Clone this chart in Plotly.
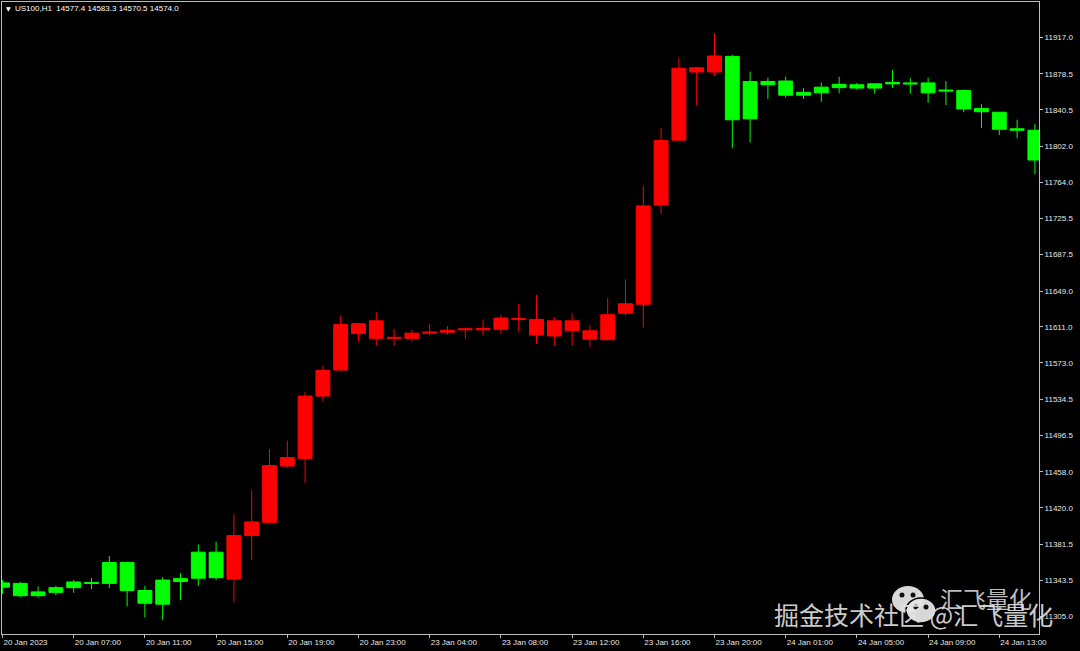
import plotly.graph_objects as go

# ---- data ----
bar_index = list(range(59))
open_ = [11340.5, 11340.0, 11331.0, 11335.5, 11341.5, 11341.0, 11362.0, 11362.0, 11332.5, 11343.5,
         11345.0, 11373.0, 11373.0, 11344.5, 11390.5, 11404.5, 11464.0, 11472.0, 11538.0, 11565.5,
         11604.0, 11599.0, 11599.0, 11599.0, 11604.5, 11605.5, 11608.0, 11608.0, 11608.5, 11619.0,
         11602.5, 11601.5, 11607.0, 11598.0, 11597.5, 11625.5, 11635.0, 11740.0, 11808.5, 11880.5,
         11880.5, 11897.0, 11870.5, 11870.5, 11871.0, 11859.0, 11864.5, 11867.5, 11867.0, 11868.0,
         11869.5, 11869.0, 11869.0, 11861.5, 11861.0, 11842.0, 11838.0, 11820.5, 11819.0]
high = [11343.5, 11341.5, 11336.5, 11337.5, 11343.5, 11345.5, 11369.0, 11363.0, 11337.5, 11346.5,
        11350.5, 11381.0, 11384.0, 11413.0, 11438.5, 11482.0, 11491.0, 11542.5, 11570.0, 11623.0,
        11615.5, 11626.5, 11609.0, 11608.0, 11614.0, 11612.0, 11610.5, 11619.0, 11623.5, 11635.5,
        11645.0, 11621.5, 11625.5, 11613.0, 11641.5, 11661.5, 11760.5, 11821.5, 11895.5, 11886.0,
        11921.5, 11898.5, 11881.0, 11874.5, 11875.5, 11863.5, 11869.5, 11875.5, 11869.0, 11868.0,
        11882.5, 11874.0, 11874.5, 11871.0, 11862.0, 11846.5, 11838.0, 11830.0, 11825.5]
low = [11329.0, 11325.5, 11325.0, 11327.5, 11330.0, 11334.0, 11335.0, 11315.5, 11304.0, 11301.5,
       11322.5, 11337.5, 11343.5, 11320.0, 11364.5, 11403.0, 11462.0, 11446.0, 11532.0, 11565.0,
       11596.0, 11591.0, 11591.0, 11595.5, 11602.0, 11603.0, 11598.5, 11601.5, 11603.5, 11606.0,
       11593.0, 11591.0, 11591.0, 11590.0, 11597.0, 11623.0, 11610.5, 11730.5, 11808.0, 11845.5,
       11876.5, 11800.0, 11806.0, 11852.0, 11853.5, 11852.0, 11849.0, 11858.0, 11861.5, 11858.0,
       11864.0, 11857.5, 11848.0, 11845.5, 11838.0, 11821.5, 11814.0, 11810.5, 11772.5]
close = [11336.0, 11327.0, 11327.0, 11330.5, 11335.5, 11340.0, 11340.0, 11332.5, 11319.0, 11318.0,
         11342.0, 11345.5, 11346.0, 11390.5, 11405.0, 11464.5, 11473.0, 11538.0, 11565.0, 11613.5,
         11614.5, 11617.5, 11600.0, 11604.5, 11605.5, 11607.5, 11609.0, 11609.5, 11620.5, 11620.0,
         11619.0, 11617.5, 11617.5, 11607.0, 11624.0, 11635.5, 11739.0, 11808.0, 11884.5, 11885.0,
         11897.5, 11830.0, 11831.0, 11867.0, 11856.0, 11856.0, 11858.5, 11864.0, 11863.5, 11863.5,
         11868.0, 11868.0, 11858.5, 11860.5, 11841.5, 11838.5, 11820.0, 11819.0, 11787.5]

time_tick_index = [0, 4, 8, 12, 16, 20, 24, 28, 32, 36, 40, 44, 48, 52, 56]
time_tick_labels = ["20 Jan 2023", "20 Jan 07:00", "20 Jan 11:00", "20 Jan 15:00", "20 Jan 19:00",
                    "20 Jan 23:00", "23 Jan 04:00", "23 Jan 08:00", "23 Jan 12:00", "23 Jan 16:00",
                    "23 Jan 20:00", "24 Jan 01:00", "24 Jan 05:00", "24 Jan 09:00", "24 Jan 13:00"]
price_ticks = [11917.0, 11878.5, 11840.5, 11802.0, 11764.0, 11725.5, 11687.5, 11649.0, 11611.0,
               11573.0, 11534.5, 11496.5, 11458.0, 11420.0, 11381.5, 11343.5, 11305.0]
price_tick_labels = [f"{v:.1f}" for v in price_ticks]

title_text = "US100,H1  14577.4 14583.3 14570.5 14574.0"
watermark_main = "掘金技术社区 @汇飞量化"
watermark_top = "汇飞量化"

# ---- figure ----
RED = "#FF0000"
GREEN = "#00FF00"
AXIS = "#bdbdbd"
TXT = "#e6e6e6"
FONT = "Liberation Sans"

fig = go.Figure(go.Candlestick(
    x=bar_index, open=open_, high=high, low=low, close=close,
    increasing=dict(line=dict(color=RED, width=1), fillcolor=RED),
    decreasing=dict(line=dict(color=GREEN, width=1), fillcolor=GREEN),
    whiskerwidth=0, showlegend=False, hoverinfo="skip",
))

W, H = 1080, 651
ml, mr, mt, mb = 2, 41, 2, 17

fig.update_layout(
    width=W, height=H,
    margin=dict(l=ml, r=mr, t=mt, b=mb, pad=0),
    paper_bgcolor="#000000", plot_bgcolor="#000000",
    boxgap=0.22, boxgroupgap=0,
    font=dict(family=FONT, size=8, color=TXT),
    xaxis=dict(
        range=[-0.028, 58.23], rangeslider=dict(visible=False),
        showgrid=False, zeroline=False,
        showline=True, linecolor=AXIS, linewidth=1, mirror=True,
        tickmode="array", tickvals=time_tick_index, ticktext=time_tick_labels,
        ticks="outside", ticklen=3, tickcolor=AXIS,
        ticklabelposition="outside right",
        tickfont=dict(family=FONT, size=8, color=TXT),
    ),
    yaxis=dict(
        range=[11286.5, 11954.5], side="right",
        showgrid=False, zeroline=False,
        showline=True, linecolor=AXIS, linewidth=1, mirror=True,
        tickmode="array", tickvals=price_ticks, ticktext=price_tick_labels,
        ticks="outside", ticklen=3, tickcolor=AXIS,
        tickfont=dict(family=FONT, size=8, color=TXT),
    ),
)

def px_x(px):
    return (px - ml) / (W - ml - mr)

def px_y(py):
    return (H - mb - py) / (H - mt - mb)

annotations = [
    dict(x=px_x(4), y=px_y(9), xref="paper", yref="paper", xanchor="left", yanchor="middle",
         text="▼", showarrow=False, font=dict(family="DejaVu Sans", size=6, color="#ffffff")),
    dict(x=px_x(13), y=px_y(9), xref="paper", yref="paper", xanchor="left", yanchor="middle",
         text=title_text.replace("  ", "&nbsp; "), showarrow=False,
         font=dict(family=FONT, size=8, color="#ffffff")),
    dict(x=px_x(938), y=px_y(598), xref="paper", yref="paper", xanchor="left", yanchor="middle",
         text=watermark_top, showarrow=False,
         font=dict(family="Noto Sans CJK SC", size=23, color="rgba(225,225,225,0.85)")),
    dict(x=px_x(772), y=px_y(614), xref="paper", yref="paper", xanchor="left", yanchor="middle",
         text=watermark_main, showarrow=False,
         font=dict(family="Noto Sans CJK SC", size=25, color="rgba(225,225,225,0.92)")),
]
fig.update_layout(annotations=annotations)

# WeChat-style logo of the watermark
def oval(x0, y0, x1, y1, fill, line=None):
    return dict(type="circle", xref="paper", yref="paper",
                x0=px_x(x0), x1=px_x(x1), y0=px_y(y1), y1=px_y(y0),
                fillcolor=fill, line=dict(color=line or fill, width=1.5 if line else 0), layer="above")

LOGO = "rgba(228,228,228,0.95)"
shapes = [
    oval(892, 586, 924, 613, LOGO),
    oval(899.5, 592.5, 904.5, 597.5, "#111111"),
    oval(910.5, 592.5, 915.5, 597.5, "#111111"),
    oval(906, 598, 936, 623, LOGO, "#000000"),
    oval(913.5, 604.5, 918.5, 609.5, "#111111"),
    oval(923.5, 604.5, 928.5, 609.5, "#111111"),
]
fig.update_layout(shapes=shapes)

fig.write_html(
    "out.html",
    config={"displayModeBar": False},
    post_script="document.body.style.margin='0px';document.body.style.background='#000';",
)
